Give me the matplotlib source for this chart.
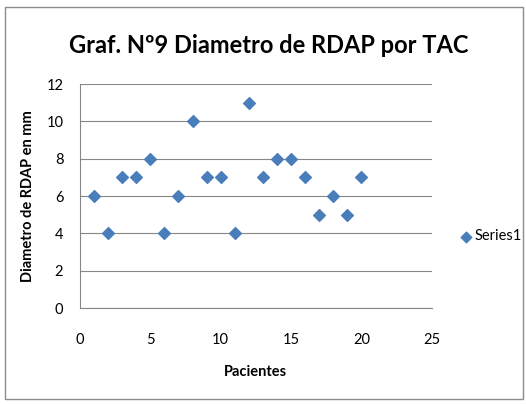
import matplotlib
matplotlib.use("Agg")
import matplotlib.pyplot as plt
from matplotlib.patches import Rectangle

pacientes = [1, 2, 3, 4, 5, 6, 7, 8, 9, 10, 11, 12, 13, 14, 15, 16, 17, 18, 19, 20]
diametro = [6, 4, 7, 7, 8, 4, 6, 10, 7, 7, 4, 11, 7, 8, 8, 7, 5, 6, 5, 7]

plt.rcParams['font.family'] = ['Lato', 'DejaVu Sans']

fig = plt.figure(figsize=(5.26, 4.04), dpi=100)
fig.patches.append(Rectangle((0.009, 0.012), 0.985, 0.97, transform=fig.transFigure,
                             fill=False, edgecolor="#8c8c8c", linewidth=1))

ax = fig.add_axes([0.152, 0.2376, 0.669, 0.5544])
ax.scatter(pacientes, diametro, marker="D", s=36, color="#4A7EBB", zorder=3, label="Series1")
ax.set_xlim(0, 25)
ax.set_ylim(0, 12)
ax.set_xticks(range(0, 26, 5))
ax.set_yticks(range(0, 13, 2))
ax.grid(axis="y", color="#868686", linewidth=0.8)
ax.set_axisbelow(True)
for s in ["top", "right"]:
    ax.spines[s].set_visible(False)
for s in ["left", "bottom"]:
    ax.spines[s].set_color("#868686")
ax.tick_params(axis="x", length=0, labelsize=10.5, pad=18)
ax.tick_params(axis="y", length=0, labelsize=10.5, pad=12)

ax.set_xlabel("Pacientes", fontsize=10.5, fontweight="bold", labelpad=13)
ax.set_ylabel("Diametro de RDAP en mm", fontsize=10.5, fontweight="bold", labelpad=8)

fig.text(0.51, 0.888, "Graf. Nº9 Diametro de RDAP por TAC", ha="center", va="center",
         fontsize=17, fontweight="bold")

leg = ax.legend(loc="center left", bbox_to_anchor=(1.077, 0.32), frameon=False,
                fontsize=10.5, handletextpad=0.1, handlelength=1.0,
                borderpad=0, borderaxespad=0, markerscale=0.9)

fig.savefig("out.png", dpi=100)
